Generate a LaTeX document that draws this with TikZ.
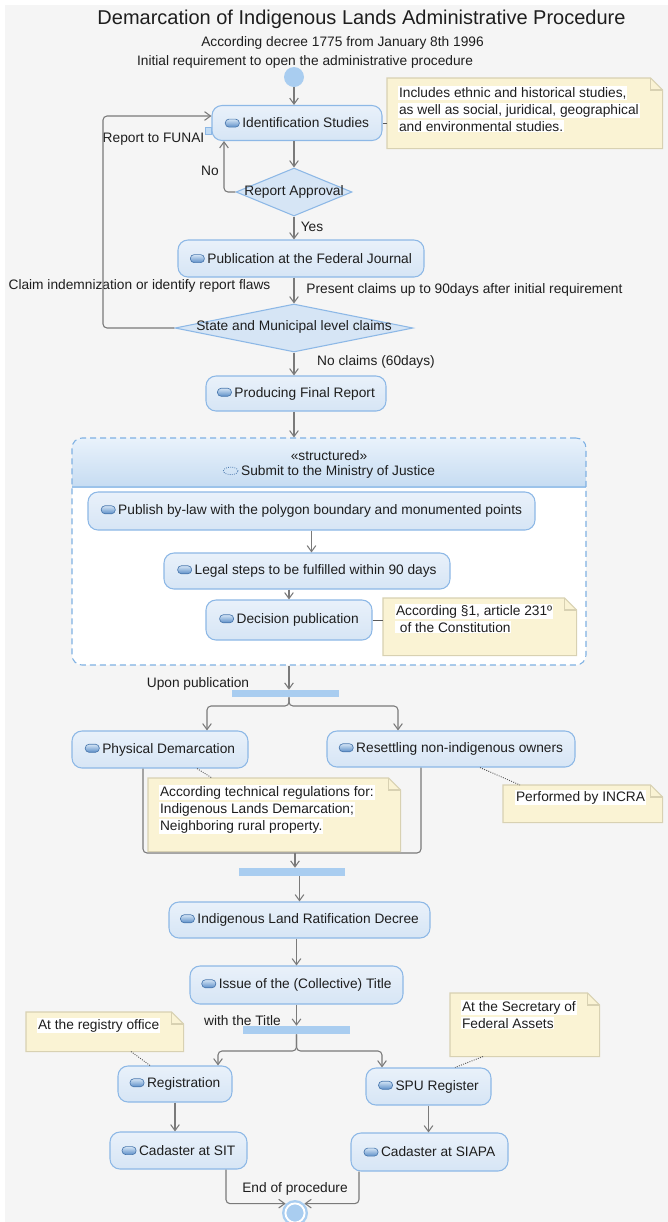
\documentclass[tikz,border=0pt]{standalone}
\usepackage{fontspec}
\setmainfont{Liberation Sans}
\usetikzlibrary{arrows.meta,shapes.geometric}
\definecolor{bggray}{HTML}{F5F5F5}
\definecolor{acttop}{HTML}{E9F1FA}
\definecolor{actbot}{HTML}{D6E5F5}
\definecolor{actline}{HTML}{8DB8E6}
\definecolor{barblue}{HTML}{A9CDF0}
\definecolor{linegray}{HTML}{7A7A7A}
\definecolor{notefill}{HTML}{FAF3D4}
\definecolor{noteline}{HTML}{D8D1B2}
\definecolor{txt}{HTML}{1E1E1E}
\definecolor{hdtop}{HTML}{E9F2FB}
\definecolor{hdbot}{HTML}{C6DCF2}
\definecolor{grpline}{HTML}{7FB1E3}
\definecolor{hdsep}{HTML}{9CC3EA}
\definecolor{icontop}{HTML}{D3E4F5}
\definecolor{iconbot}{HTML}{5D8FC8}
\definecolor{iconline}{HTML}{4A78AE}
\newcommand\bodyfont{\fontsize{10.3}{12}\selectfont}
\newcommand\aicon{\tikz[baseline={(0pt,-0.6pt)}]\shade[top color=icontop,bottom color=iconbot,draw=iconline,line width=0.5pt,rounded corners=2.8pt] (0pt,0pt) rectangle (10.5pt,6pt);}
\newcommand\gicon{\tikz[baseline={(0pt,-3.5pt)}]\draw[densely dotted,draw=iconline,line width=0.6pt] (5.5pt,0pt) ellipse (5.5pt and 2.8pt);}
\newcommand\hl[1]{\colorbox{white}{#1}}
\setlength\fboxsep{0.6pt}
\newcommand\notepoly[1]{%
 \filldraw[fill=notefill,draw=noteline,line width=0.8pt] (#1.south west) -- (#1.north west) -- ([xshift=-9pt]#1.north east) -- ([yshift=-9pt]#1.north east) -- (#1.south east) -- cycle;
 \draw[draw=noteline,line width=0.8pt] ([xshift=-9pt]#1.north east) -- ([xshift=-9pt,yshift=-9pt]#1.north east) -- ([yshift=-9pt]#1.north east);}
\tikzset{
 act/.style={draw=actline, top color=acttop, bottom color=actbot, rounded corners=7.5pt, line width=0.8pt, text=txt, font=\bodyfont, inner sep=0pt},
 decis/.style={diamond, draw=actline, fill=actbot, line width=0.8pt, inner sep=0pt},
 arr/.style={draw=linegray, line width=0.8pt, -{Straight Barb[length=4.5pt,width=6.5pt]}},
 ln/.style={draw=linegray, line width=0.8pt},
 bar/.style={fill=barblue, inner sep=0pt},
 lbl/.style={text=txt, font=\bodyfont, inner sep=0pt},
 notebox/.style={inner sep=0pt, anchor=north west},
 notetext/.style={anchor=north west, inner sep=0pt, align=left, text=txt, font=\fontsize{10.3}{12.75}\selectfont},
 noteconn/.style={draw=black!65, line width=0.7pt, densely dotted},
}
\begin{document}
\begin{tikzpicture}[x=0.75pt,y=-0.75pt]
\useasboundingbox (0,0) rectangle (668,1222);
\fill[bggray] (5,5) rectangle (668,1222);

% titles
\node[lbl, font=\fontsize{15}{18}\selectfont] (title) at (361.5,19) {Demarcation of Indigenous Lands Administrative Procedure};
\node[lbl] (sub) at (342.5,43) {According decree 1775 from January 8th 1996};
\node[lbl] (initlbl) at (305,62) {Initial requirement to open the administrative procedure};

% initial
\node[circle, fill=barblue, minimum size=20*0.75pt, inner sep=0pt] (init) at (294,77) {};

% notes (shapes)
\node[notebox, minimum width=275*0.75pt, minimum height=70*0.75pt] (n1) at (387,78) {};
\notepoly{n1}
\node[notetext] (n1t) at (398,86) {\hl{Includes ethnic and historical studies,}\\\hl{as well as social, juridical, geographical}\\\hl{and environmental studies.}};

% first part
\node[act, minimum width=170*0.75pt, minimum height=35*0.75pt] (ids) at (297,123) {\aicon\hspace{2pt}Identification Studies};
\node[draw=actline, fill=barblue!70, minimum width=4.5pt, minimum height=5.25pt, inner sep=0pt, line width=0.6pt] (port) at (208,130.5) {};
\node[lbl] (lfunai) at (153.5,139) {Report to FUNAI};
\draw[noteconn, solid] (ids.east) -- (ids.east -| n1.west);

\node[decis, minimum width=116*0.75pt, minimum height=48*0.75pt] (ra) at (294,192) {};
\node[lbl] (ratxt) at (294,192) {Report Approval};
\node[act, minimum width=246*0.75pt, minimum height=37*0.75pt] (pub) at (301,258.5) {\aicon\hspace{2pt}Publication at the Federal Journal};
\node[decis, minimum width=238*0.75pt, minimum height=48*0.75pt] (st) at (294,328) {};
\node[lbl] (sttxt) at (294,327) {State and Municipal level claims};
\node[act, minimum width=180*0.75pt, minimum height=35*0.75pt] (pfr) at (296,393.5) {\aicon\hspace{2pt}Producing Final Report};

\draw[arr] (init) -- (init |- ids.north);
\draw[arr] (ids.south -| ra.north) -- (ra.north);
\draw[arr, rounded corners=3pt] (ra.west) -| ([xshift=-54.75pt]ids.south);
\node[lbl] (lno) at (210,171) {No};
\draw[arr] (ra.south) -- (ra.south |- pub.north);
\node[lbl] (lyes) at (312,227) {Yes};
\draw[arr] (pub.south -| st.north) -- (st.north);
\node[lbl] (lclaim) at (139.5,286) {Claim indemnization or identify report flaws};
\node[lbl] (lpres) at (464.5,290) {Present claims up to 90days after initial requirement};
\coordinate (fb) at (103,116);
\draw[arr, rounded corners=3pt] (st.west) -| (fb) -- (fb -| ids.west);
\draw[arr] (st.south) -- (st.south |- pfr.north);
\node[lbl] (lnocl) at (376,362) {No claims (60days)};

% structured group
\begin{scope}
 \clip[rounded corners=7.5pt] (72,438) rectangle (586,665);
 \fill[white] (72,438) rectangle (586,665);
 \shade[top color=hdtop, bottom color=hdbot] (72,438) rectangle (586,487);
\end{scope}
\draw[hdsep, line width=0.8pt] (72,487) -- (586,487);
\node[draw=grpline, dash pattern=on 4.5pt off 3pt, line width=0.8pt, rounded corners=7.5pt, minimum width=514*0.75pt, minimum height=227*0.75pt, inner sep=0pt] (grp) at (329,551.5) {};
\node[lbl] (stereo) at (329,456) {«structured»};
\node[lbl] (grpname) at (329,472) {\gicon\hspace{2pt}Submit to the Ministry of Justice};
\draw[arr] (pfr.south -| st.south) -- (st.south |- grp.north);

\node[act, minimum width=447*0.75pt, minimum height=38*0.75pt] (pbl) at (311.5,511) {\aicon\hspace{2pt}Publish by-law with the polygon boundary and monumented points};
\node[act, minimum width=286*0.75pt, minimum height=36*0.75pt] (legal) at (307,571) {\aicon\hspace{2pt}Legal steps to be fulfilled within 90 days};
\node[act, minimum width=166*0.75pt, minimum height=40*0.75pt] (dec) at (289,620) {\aicon\hspace{2pt}Decision publication};
\node[notebox, minimum width=193*0.75pt, minimum height=57*0.75pt] (n2) at (383,598) {};
\notepoly{n2}
\node[notetext] (n2t) at (395,604) {\hl{According §1, article 231º}\\\hl{\ of the Constitution}};
\draw[noteconn, solid] (dec.east) -- (dec.east -| n2.west);
\draw[arr] (pbl.south) -- (pbl.south |- legal.north);
\draw[arr] (legal.south -| dec.north) -- (dec.north);

% fork 1
\node[bar, minimum width=107*0.75pt, minimum height=7*0.75pt] (fork1) at (285.5,693.5) {};
\node[lbl] (lupon) at (198,684) {Upon publication};
\draw[arr] (grp.south -| dec.north) -- (dec.north |- fork1.north);
\node[act, minimum width=176*0.75pt, minimum height=37*0.75pt] (phys) at (160,749.5) {\aicon\hspace{2pt}Physical Demarcation};
\node[act, minimum width=248*0.75pt, minimum height=36*0.75pt] (res) at (451,749) {\aicon\hspace{2pt}Resettling non-indigenous owners};
\coordinate (f1l) at (207,706);
\coordinate (f1r) at (398,706);
\draw[arr, rounded corners=3pt] (dec.north |- fork1.south) |- (f1l) -- (f1l |- phys.north);
\draw[arr, rounded corners=3pt] (dec.north |- fork1.south) |- (f1r) -- (f1r |- res.north);

% join lines
\coordinate (jm) at (295,853);
\draw[ln, rounded corners=3pt] ([xshift=-12.75pt]phys.south) |- (jm);
\draw[ln, rounded corners=3pt] ([xshift=-22.5pt]res.south) |- (jm);

% notes 3,4
\node[notebox, minimum width=252*0.75pt, minimum height=73*0.75pt] (n3) at (148,778) {};
\notepoly{n3}
\node[notetext] (n3t) at (159,785) {\hl{According technical regulations for:}\\\hl{Indigenous Lands Demarcation;}\\\hl{Neighboring rural property.}};
\draw[noteconn] ([xshift=27.75pt]phys.south) -- ([xshift=48pt]n3.north west);
\node[notebox, minimum width=159*0.75pt, minimum height=37*0.75pt] (n4) at (503,785) {};
\notepoly{n4}
\node[notetext] (n4t) at (515,790) {\hl{Performed by INCRA}};
\draw[noteconn] ([xshift=21.75pt]res.south) -- ([xshift=12.75pt]n4.north west);

% join
\node[bar, minimum width=106*0.75pt, minimum height=8*0.75pt] (join) at (292,872) {};
\draw[arr] (jm) -- (jm |- join.north);
\node[act, minimum width=261*0.75pt, minimum height=36*0.75pt] (ratif) at (299.5,920) {\aicon\hspace{2pt}Indigenous Land Ratification Decree};
\node[act, minimum width=213*0.75pt, minimum height=38*0.75pt] (issue) at (296.5,985) {\aicon\hspace{2pt}Issue of the (Collective) Title};
\draw[arr] (join.south -| ratif.north) -- (ratif.north);
\draw[arr] (ratif.south -| issue.north) -- (issue.north);

% fork 3
\node[bar, minimum width=107*0.75pt, minimum height=8*0.75pt] (fork3) at (296.5,1030) {};
\node[lbl] (lwith) at (242.5,1021) {with the Title};
\draw[arr] (issue.south) -- (issue.south |- fork3.north);
\node[act, minimum width=114*0.75pt, minimum height=36*0.75pt] (reg) at (175,1084) {\aicon\hspace{2pt}Registration};
\node[act, minimum width=125*0.75pt, minimum height=37*0.75pt] (spu) at (428.5,1086.5) {\aicon\hspace{2pt}SPU Register};
\coordinate (f3l) at (218,1051);
\coordinate (f3r) at (382,1051);
\draw[arr, rounded corners=3pt] (issue.south |- fork3.south) |- (f3l) -- (f3l |- reg.north);
\draw[arr, rounded corners=3pt] (issue.south |- fork3.south) |- (f3r) -- (f3r |- spu.north);

% notes 5,6
\node[notebox, minimum width=157*0.75pt, minimum height=39*0.75pt] (n5) at (26,1012) {};
\notepoly{n5}
\node[notetext] (n5t) at (37,1018) {\hl{At the registry office}};
\draw[noteconn] ([xshift=78.75pt]n5.south west) -- ([xshift=-18.75pt]reg.north);
\node[notebox, minimum width=149*0.75pt, minimum height=63*0.75pt] (n6) at (450,993) {};
\notepoly{n6}
\node[notetext] (n6t) at (461,1000) {\hl{At the Secretary of}\\\hl{Federal Assets}};
\draw[noteconn] ([xshift=24.75pt]n6.south west) -- ([xshift=19.9pt]spu.north);

% cadasters
\node[act, minimum width=137*0.75pt, minimum height=37*0.75pt] (sit) at (178.5,1150.5) {\aicon\hspace{2pt}Cadaster at SIT};
\node[act, minimum width=157*0.75pt, minimum height=38*0.75pt] (siapa) at (429.5,1152) {\aicon\hspace{2pt}Cadaster at SIAPA};
\draw[arr] (reg.south) -- (reg.south |- sit.north);
\draw[arr] (spu.south) -- (spu.south |- siapa.north);

% final
\node[circle, fill=barblue, minimum size=26*0.75pt, inner sep=0pt] (fin) at (295,1213) {};
\draw[white, line width=1.4pt] (fin.center) circle[radius=7.2pt];
\draw[arr, rounded corners=3pt] ([xshift=35.6pt]sit.south) |- (fin.north west);
\draw[arr, rounded corners=3pt] ([xshift=-52.9pt]siapa.south) |- (fin.north east);
\node[lbl] (lend) at (295,1189) {End of procedure};
\end{tikzpicture}
\end{document}
